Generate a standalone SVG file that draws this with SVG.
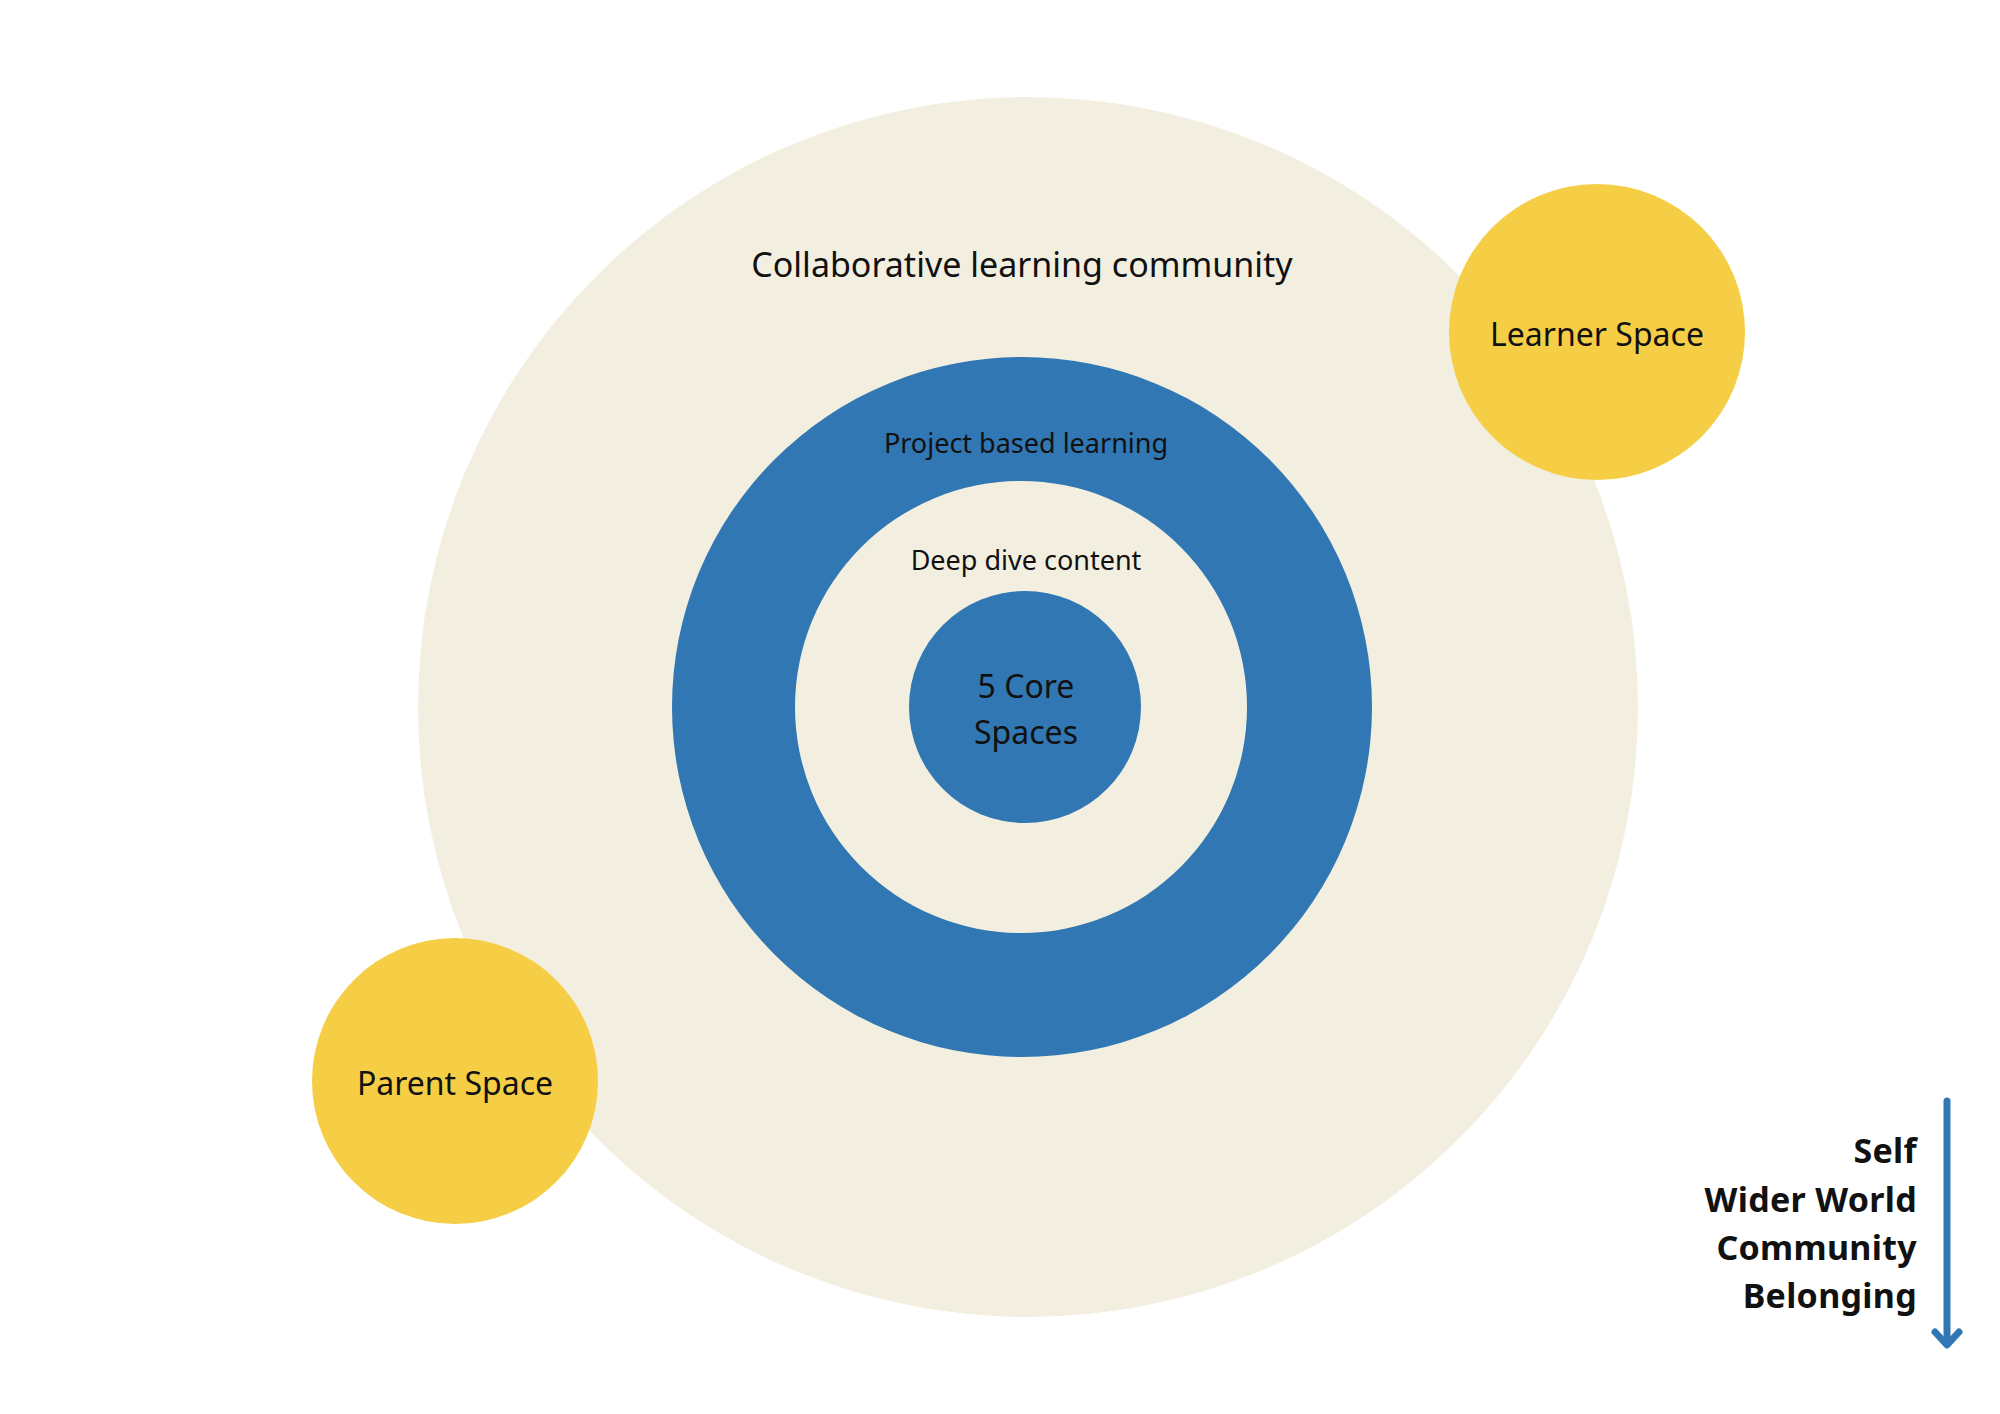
<svg xmlns="http://www.w3.org/2000/svg" width="2000" height="1414" viewBox="0 0 2000 1414">
<style>
.beige{fill:#f3efe0}
.blue{fill:#3177b4}
.yellow{fill:#f6ce46}
text{font-family:"Noto Sans","Open Sans","DejaVu Sans",sans-serif;fill:#111;text-anchor:middle;dominant-baseline:central}
.legend{font-weight:bold;text-anchor:end;font-size:34px;dominant-baseline:alphabetic;letter-spacing:0.3px}
</style>
<rect width="2000" height="1414" fill="#ffffff"/>
<g id="community">
<circle class="beige" cx="1028" cy="707" r="610"/>
<text x="1022" y="264" font-size="34">Collaborative learning community</text>
</g>
<g id="project">
<circle class="blue" cx="1022" cy="707" r="350"/>
<text x="1026" y="442" font-size="27">Project based learning</text>
</g>
<g id="deepdive">
<circle class="beige" cx="1021" cy="707" r="226"/>
<text x="1026" y="559" font-size="27">Deep dive content</text>
</g>
<g id="core">
<circle class="blue" cx="1025" cy="707" r="116"/>
<text x="1026" y="685" font-size="32">5 Core</text>
<text x="1026" y="731" font-size="32">Spaces</text>
</g>
<g id="learner">
<circle class="yellow" cx="1597" cy="332" r="148"/>
<text x="1597" y="333" font-size="32">Learner Space</text>
</g>
<g id="parent">
<circle class="yellow" cx="455" cy="1081" r="143"/>
<text x="455" y="1082" font-size="32">Parent Space</text>
</g>
<g id="legend">
<text class="legend" x="1917" y="1163">Self</text>
<text class="legend" x="1917" y="1212">Wider World</text>
<text class="legend" x="1917" y="1260">Community</text>
<text class="legend" x="1917" y="1308">Belonging</text>
</g>
<g id="connectors" fill="none" stroke="#3177b4" stroke-width="7" stroke-linecap="round" stroke-linejoin="round">
<line x1="1947" y1="1101" x2="1947" y2="1344"/>
<polyline points="1935,1332 1947,1345 1959,1332"/>
</g>
</svg>
